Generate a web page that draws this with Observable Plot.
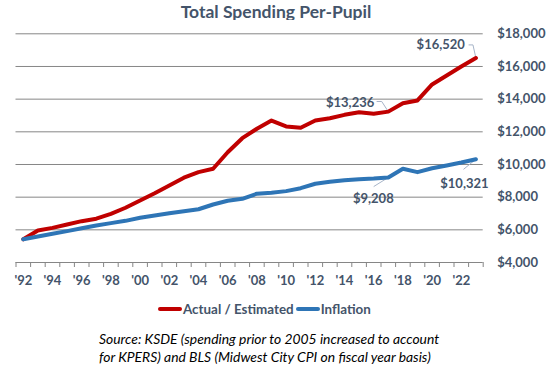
<!DOCTYPE html>
<html>
<head>
<meta charset="utf-8">
<script src="https://cdn.jsdelivr.net/npm/d3@7"></script>
<script src="https://cdn.jsdelivr.net/npm/@observablehq/plot@0.6"></script>
<style>
  html, body { margin: 0; padding: 0; background: #fff; }
  #wrap { position: relative; width: 552px; height: 368px; overflow: hidden; font-family: Lato, "Open Sans", sans-serif; }
  #title { position: absolute; left: 0; width: 552px; top: 1px; text-align: center; font-weight: bold; font-size: 17.5px; color: #44546A; }
  #chart { position: absolute; left: 0; top: 20px; }
  #legend { position: absolute; left: 158px; top: 301px; display: flex; align-items: center; font-weight: bold; font-size: 13.4px; color: #44546A; }
  .sw { width: 24px; height: 4px; border-radius: 2px; margin-right: 1px; }
  #caption { position: absolute; left: 99px; top: 330px; font-style: italic; font-size: 13.9px; line-height: 17.7px; color: #000; }
</style>
</head>
<body>
<div id="wrap">
  <div id="title">Total Spending Per-Pupil</div>
  <div id="chart"></div>
  <div id="legend">
    <div class="sw" style="background:#C00000"></div><span style="margin-right:2px">Actual / Estimated</span>
    <div class="sw" style="background:#2E75B6"></div><span>Inflation</span>
  </div>
  <div id="caption">Source: KSDE (spending prior to 2005 increased to account<br>for KPERS) and BLS (Midwest City CPI on fiscal year basis)</div>
</div>
<script>
const years = [1992,1993,1994,1995,1996,1997,1998,1999,2000,2001,2002,2003,2004,2005,2006,2007,
               2008,2009,2010,2011,2012,2013,2014,2015,2016,2017,2018,2019,2020,2021,2022,2023];
const actual = [5420,5960,6120,6330,6530,6680,6980,7350,7800,8240,8710,9190,9530,9740,10750,11610,
                12190,12690,12330,12250,12690,12830,13040,13200,13100,13236,13750,13920,14900,15450,16000,16520];
const inflation = [5420,5590,5760,5920,6100,6270,6410,6550,6740,6880,7020,7140,7260,7550,7780,7900,
                   8210,8270,8370,8550,8820,8940,9040,9100,9140,9208,9740,9530,9770,9940,10120,10321];
const labelYears = [1992,1994,1996,1998,2000,2002,2004,2006,2008,2010,2012,2014,2016,2018,2020,2022];
const yTicks = [4000,6000,8000,10000,12000,14000,16000,18000];

const rows = [];
years.forEach((yr, i) => {
  rows.push({year: yr, value: actual[i], series: "Actual / Estimated"});
  rows.push({year: yr, value: inflation[i], series: "Inflation"});
});

const iA = years.indexOf(2017), iB = years.length - 1;
const labels = [
  {year: years[iB], value: actual[iB]},
  {year: years[iA], value: actual[iA]},
  {year: years[iA], value: inflation[iA]},
  {year: years[iB], value: inflation[iB]}
];
const fmt = d => "$" + d3.format(",")(d);
const gray = "#868686", txt = "#44546A", lead = "#A6B4C8";
const bounds = years.map(y => y - 0.5).concat([2023.5]);

const chart = Plot.plot({
  width: 552,
  height: 270,
  marginLeft: 15.5,
  marginRight: 69.3,
  marginTop: 13.3,
  marginBottom: 28,
  style: {fontFamily: "Lato, 'Open Sans', sans-serif", background: "white"},
  x: {type: "linear", domain: [1991.5, 2023.5], label: null},
  y: {domain: [4000, 18000], label: null},
  color: {domain: ["Actual / Estimated", "Inflation"], range: ["#C00000", "#2E75B6"]},
  marks: [
    Plot.ruleY(yTicks.filter(d => d > 4000), {stroke: gray, strokeWidth: 1}),
    Plot.ruleY([4000], {stroke: gray, strokeWidth: 1}),
    Plot.axisX(bounds, {tickSize: 5, stroke: gray, text: null, label: null}),
    Plot.axisX(labelYears, {tickSize: 0, tickPadding: 13.5, tickFormat: d => "'" + String(d).slice(2),
      fontSize: 13, fontWeight: "bold", fill: txt, label: null}),
    Plot.axisY(yTicks, {anchor: "right", tickSize: 0, tickPadding: 14, tickFormat: fmt,
      fontSize: 13, fontWeight: "bold", fill: txt, label: null}),
    // leader lines
    Plot.link([labels[0]], {x1: "year", y1: "value", x2: d => d.year - 0.2, y2: d => d.value + 800, stroke: lead, strokeWidth: 1}),
    Plot.link([labels[0]], {x1: d => d.year - 0.2, y1: d => d.value + 800, x2: d => d.year - 0.5, y2: d => d.value + 800, stroke: lead, strokeWidth: 1}),
    Plot.link([labels[1]], {x1: "year", y1: "value", x2: d => d.year - 0.45, y2: d => d.value + 620, stroke: lead, strokeWidth: 1}),
    Plot.link([labels[1]], {x1: d => d.year - 0.45, y1: d => d.value + 620, x2: d => d.year - 0.8, y2: d => d.value + 620, stroke: lead, strokeWidth: 1}),
    Plot.link([labels[2]], {x1: "year", y1: "value", x2: d => d.year - 1.0, y2: d => d.value - 560, stroke: lead, strokeWidth: 1}),
    Plot.link([labels[3]], {x1: "year", y1: "value", x2: d => d.year - 0.85, y2: d => d.value - 620, stroke: lead, strokeWidth: 1}),
    Plot.line(rows, {x: "year", y: "value", stroke: "series", z: "series", strokeWidth: 4,
      strokeLinejoin: "round", strokeLinecap: "round"}),
    Plot.text([labels[0]], {x: "year", y: "value", text: d => fmt(d.value), dx: -11, dy: -13, textAnchor: "end",
      fontSize: 13, fontWeight: "bold", fill: txt}),
    Plot.text([labels[1]], {x: "year", y: "value", text: d => fmt(d.value), dx: -14, dy: -9, textAnchor: "end",
      fontSize: 13, fontWeight: "bold", fill: txt}),
    Plot.text([labels[2]], {x: "year", y: "value", text: d => fmt(d.value), dx: -15, dy: 21,
      fontSize: 13, fontWeight: "bold", fill: txt}),
    Plot.text([labels[3]], {x: "year", y: "value", text: d => fmt(d.value), dx: -11.5, dy: 25,
      fontSize: 13, fontWeight: "bold", fill: txt})
  ]
});
document.getElementById("chart").appendChild(chart);
</script>
</body>
</html>
